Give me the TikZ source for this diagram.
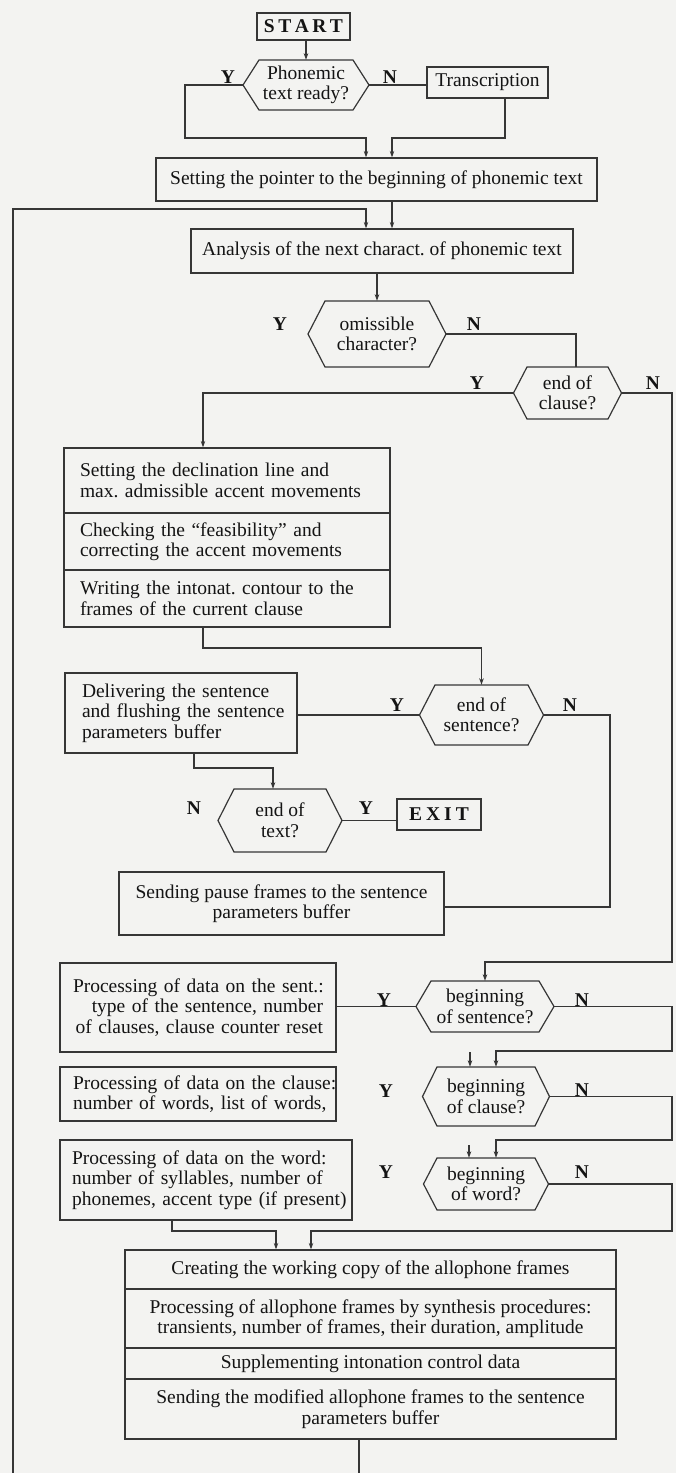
\documentclass[tikz,border=0pt]{standalone}
\usepackage{fontspec}
\setmainfont{Liberation Serif}
\usetikzlibrary{arrows.meta}
\definecolor{lc}{HTML}{363636}
\definecolor{tc}{HTML}{141414}
\definecolor{bg}{HTML}{F3F3F1}
\newcommand\fs{\fontsize{19.5}{20.5}\selectfont}
\newcommand\hexn[7]{%
  \draw[ln] ({#2-#4-#5},#3) -- ({#2-#4},{#3-#6}) -- ({#2+#4},{#3-#6}) -- ({#2+#4+#5},#3) -- ({#2+#4},{#3+#6}) -- ({#2-#4},{#3+#6}) -- cycle;
  \node[hx, minimum width={2*(#4+#5)*1pt}, minimum height={2*#6*1pt}] (#1) at (#2,#3) {#7};}
\begin{document}
\begin{tikzpicture}[x=1pt,y=-1pt,
  ln/.style={draw=lc, line width=1.2pt},
  arr/.style={ln, -{Stealth[length=6.5pt,width=4.5pt]}},
  bx/.style={draw=lc, line width=1.2pt, inner sep=0pt, font=\fs, text=tc, align=center},
  hx/.style={inner sep=0pt, font=\fs, text=tc, align=center},
  lb/.style={inner sep=0pt, font=\fs\bfseries, text=tc}]
\fill[bg] (0,0) rectangle (676,1473);
\useasboundingbox (0,0) rectangle (676,1473);

% boxes
\node[bx, minimum width=93pt, minimum height=27pt, font=\fs\bfseries] (start) at (303.5,26.5) {S\hspace{3.5pt}T\hspace{3.5pt}A\hspace{3.5pt}R\hspace{3.5pt}T};
\node[bx, minimum width=121pt, minimum height=31pt] (tr) at (487.5,82.5) {Transcription};
\node[bx, minimum width=441pt, minimum height=43pt] (pt) at (376.5,179.5) {Setting the pointer to the beginning of phonemic text};
\node[bx, minimum width=382pt, minimum height=44pt] (an) at (382,251) {Analysis of the next charact.\ of phonemic text};
\node[bx, minimum width=326pt, minimum height=65pt, text width=294pt, align=left] (d1) at (227,480.5) {\mbox{Setting the declination line and}\\\mbox{max.\ admissible accent movements}};
\node[bx, minimum width=326pt, minimum height=57pt, text width=294pt, align=left] (d2) at (227,541.5) {\mbox{Checking the “feasibility” and}\\\mbox{correcting the accent movements}};
\node[bx, minimum width=326pt, minimum height=57pt, text width=294pt, align=left] (d3) at (227,598.5) {\mbox{Writing the intonat.\ contour to the}\\\mbox{frames of the current clause}};
\node[bx, minimum width=232pt, minimum height=80pt, text width=198pt, align=left] (dl) at (181,713) {\mbox{Delivering the sentence}\\\mbox{and flushing the sentence}\\\mbox{parameters buffer}};
\node[bx, minimum width=84pt, minimum height=31pt, font=\fs\bfseries] (ex) at (439,814.5) {E\hspace{4pt}X\hspace{4pt}I\hspace{4pt}T};
\node[bx, minimum width=325pt, minimum height=63pt] (ps) at (281.5,903.5) {Sending pause frames to the sentence\\parameters buffer};
\node[bx, minimum width=276pt, minimum height=89pt, text width=250pt, align=right] (st) at (198,1007.5) {\mbox{Processing of data on the sent.:}\\\mbox{type of the sentence, number}\\\mbox{of clauses, clause counter reset}};
\node[bx, minimum width=276pt, minimum height=54pt, text width=250pt, align=left] (cl) at (198,1094) {\mbox{Processing of data on the clause:}\\\mbox{number of words, list of words,}};
\node[bx, minimum width=292pt, minimum height=80pt, text width=268pt, align=left] (wd) at (206,1180) {\mbox{Processing of data on the word:}\\\mbox{number of syllables, number of}\\\mbox{phonemes, accent type (if present)}};
\node[bx, minimum width=491pt, minimum height=39pt] (cr1) at (370.5,1269.5) {Creating the working copy of the allophone frames};
\node[bx, minimum width=491pt, minimum height=59pt] (cr2) at (370.5,1318.5) {Processing of allophone frames by synthesis procedures:\\transients, number of frames, their duration, amplitude};
\node[bx, minimum width=491pt, minimum height=31pt] (cr3) at (370.5,1363.5) {Supplementing intonation control data};
\node[bx, minimum width=491pt, minimum height=60pt] (cr4) at (370.5,1409) {Sending the modified allophone frames to the sentence\\parameters buffer};

% decisions
\hexn{ph}{306}{85}{47}{16}{25}{Phonemic\\text ready?}
\hexn{om}{377}{334}{52}{17}{33}{omissible\\character?}
\hexn{eoc}{567.5}{393}{40.5}{13.5}{26}{end of\\clause?}
\hexn{eos}{481.5}{715}{46.5}{15.5}{30}{end of\\sentence?}
\hexn{eot}{280}{820.5}{46}{16}{31.5}{end of\\text?}
\hexn{bos}{485}{1006.5}{54}{15}{25.5}{beginning\\of sentence?}
\hexn{boc}{486}{1096.5}{49}{14.5}{29.5}{beginning\\of clause?}
\hexn{bow}{486}{1184}{49}{13.5}{26}{beginning\\of word?}

% labels
\node[lb] (y1) at (228,77) {Y};   \node[lb] (n1) at (390,77) {N};
\node[lb] (y2) at (280,324) {Y};  \node[lb] (n2) at (474,324) {N};
\node[lb] (y3) at (477,383) {Y};  \node[lb] (n3) at (653,383) {N};
\node[lb] (y4) at (397,705) {Y};  \node[lb] (n4) at (570,705) {N};
\node[lb] (n5) at (194,808) {N};  \node[lb] (y5) at (366,808) {Y};
\node[lb] (y6) at (384,1000) {Y}; \node[lb] (n6) at (582,1000) {N};
\node[lb] (y7) at (386,1091) {Y}; \node[lb] (n7) at (582,1090) {N};
\node[lb] (y8) at (386,1172) {Y}; \node[lb] (n8) at (582,1172) {N};

% bend points
\coordinate (yl) at (185,138);
\coordinate (a1) at (366,138);
\coordinate (t1) at (505,138);
\coordinate (a2) at (392,138);
\coordinate (L1) at (13,209);
\coordinate (a3) at (366,209);
\coordinate (Lb) at (13,1473);
\coordinate (c1) at (576,334);
\coordinate (c2) at (203,393);
\coordinate (R1) at (672,962);
\coordinate (c3) at (203,648);
\coordinate (c4) at (610,907);
\coordinate (c5) at (194,768);
\coordinate (c6) at (273,768);
\coordinate (c7) at (672,1051);
\coordinate (c8) at (496,1051);
\coordinate (s1) at (470,1052);
\coordinate (c9) at (672,1140);
\coordinate (c10) at (496,1140);
\coordinate (s2) at (469,1145);
\coordinate (c11) at (672,1231);
\coordinate (c12) at (311,1231);
\coordinate (c13) at (172,1231);
\coordinate (c14) at (276,1231);
\coordinate (bt) at (359,1473);

% connectors
\draw[arr] (start.south -| ph.north) -- (ph.north);
\draw[ln] (ph.east) -- (ph.east -| tr.west);
\draw[arr] (ph.west) -- (ph.west -| yl) -- (yl) -- (a1) -- (a1 |- pt.north);
\draw[arr] (t1 |- tr.south) -- (t1) -- (a2) -- (a2 |- pt.north);
\draw[arr] (Lb) -- (L1) -- (a3) -- (a3 |- an.north);
\draw[arr] (pt.south -| a2) -- (an.north -| a2);
\draw[arr] (an.south -| om.north) -- (om.north);
\draw[ln] (om.east) -- (om.east -| c1) -- (c1 |- eoc.north);
\draw[arr] (eoc.west) -- (eoc.west -| c2) -- (c2 |- d1.north);
\draw[arr] (eoc.east) -| (R1) -- (R1 -| bos.north) -- (bos.north);
\draw[arr] (c3 |- d3.south) -- (c3) -- (c3 -| eos.north) -- (eos.north);
\draw[ln] (eos.west) -- (eos.west -| dl.east);
\draw[ln] (eos.east) -| (c4) -- (c4 -| ps.east);
\draw[arr] (c5 |- dl.south) -- (c5) -- (c6) -- (c6 |- eot.north);
\draw[ln] (eot.east) -- (eot.east -| ex.west);
\draw[ln] (bos.west) -- (bos.west -| st.east);
\draw[arr] (bos.east) -| (c7) -- (c8) -- (c8 |- boc.north);
\draw[arr] (s1) -- (s1 |- boc.north);
\draw[arr] (boc.east) -| (c9) -- (c10) -- (c10 |- bow.north);
\draw[arr] (s2) -- (s2 |- bow.north);
\draw[arr] (bow.east) -| (c11) -- (c12) -- (c12 |- cr1.north);
\draw[arr] (c13 |- wd.south) -- (c13) -- (c14) -- (c14 |- cr1.north);
\draw[ln] (cr4.south -| bt) -- (bt);
\end{tikzpicture}
\end{document}
